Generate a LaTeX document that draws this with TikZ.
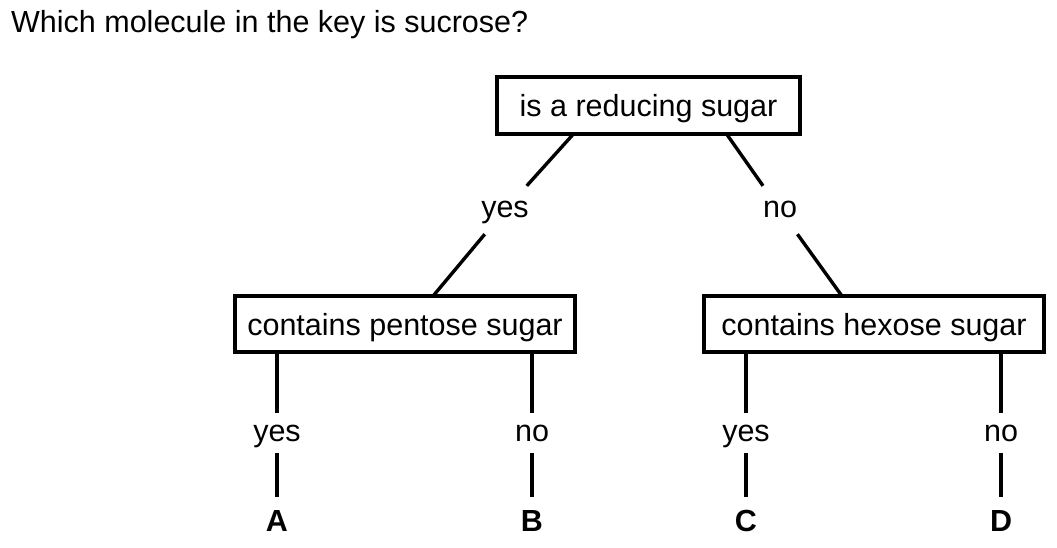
\documentclass[tikz,border=0pt]{standalone}
\usepackage{fontspec}
\setmainfont{Liberation Sans}
\usetikzlibrary{positioning}

\begin{document}
\begin{tikzpicture}[
    x=1pt, y=-1pt,
    every node/.style={font=\fontsize{30.5}{36}\selectfont},
    keybox/.style={rectangle, draw=black, line width=3.8pt, inner sep=0pt, text height=22pt, text depth=0pt, minimum height=57pt},
    answer/.style={inner sep=0pt, text height=16pt, text depth=0pt, minimum width=50pt},
    letter/.style={inner sep=0pt, minimum height=48pt, font=\fontsize{30.5}{36}\selectfont\bfseries},
    link/.style={line width=3.4pt},
]
\useasboundingbox (0,0) rectangle (1057,548);

% Question
\node[anchor=base west, inner sep=0pt] (question) at (11,33) {Which molecule in the key is sucrose?};

% Key boxes
\node[keybox, minimum width=303pt] (reducing) at (648.5,105.5) {is a reducing sugar};
\node[keybox, minimum width=340pt, minimum height=56pt] (pentose) at (405,324) {contains pentose sugar};
\node[keybox, minimum width=340pt, minimum height=56pt] (hexose) at (874,324) {contains hexose sugar};

% First split
\node[answer, minimum height=48pt] (yesR) at (505,210) {yes};
\node[answer, minimum height=48pt] (noR) at (780,210) {no};

\coordinate (reducingL) at ([xshift=-75pt, yshift=2pt]reducing.south);
\coordinate (reducingR) at ([xshift=78pt, yshift=2pt]reducing.south);
\coordinate (pentoseT) at ([xshift=28pt, yshift=-2pt]pentose.north);
\coordinate (hexoseT) at ([xshift=-32pt, yshift=-2pt]hexose.north);

% Second split
\node[answer, minimum height=40pt] (yesA) at (277,433) {yes};
\node[answer, minimum height=40pt] (noB) at (532,433) {no};
\node[answer, minimum height=40pt] (yesC) at (746,433) {yes};
\node[answer, minimum height=40pt] (noD) at (1001,433) {no};

% Molecules
\node[letter] (molA) at (277,521) {A};
\node[letter] (molB) at (532,521) {B};
\node[letter] (molC) at (746,521) {C};
\node[letter] (molD) at (1001,521) {D};

% Links
\draw[link] (reducingL) -- (yesR);
\draw[link] (yesR) -- (pentoseT);
\draw[link] (reducingR) -- (noR);
\draw[link] (noR) -- (hexoseT);

\draw[link] (yesA |- pentose.south) -- (yesA);
\draw[link] (yesA) -- (molA);
\draw[link] (noB |- pentose.south) -- (noB);
\draw[link] (noB) -- (molB);
\draw[link] (yesC |- hexose.south) -- (yesC);
\draw[link] (yesC) -- (molC);
\draw[link] (noD |- hexose.south) -- (noD);
\draw[link] (noD) -- (molD);

\end{tikzpicture}
\end{document}
